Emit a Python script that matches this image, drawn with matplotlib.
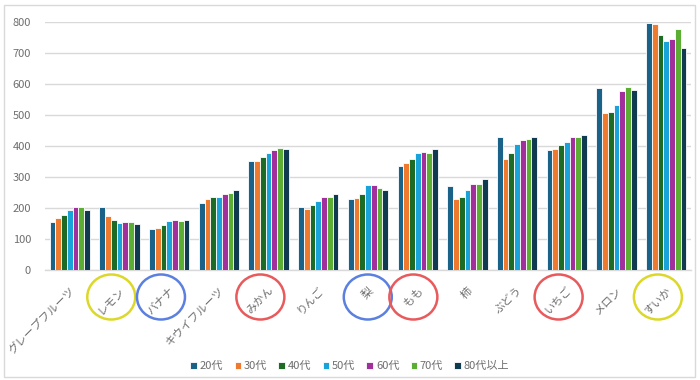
import numpy as np
import matplotlib
matplotlib.use("Agg")
import matplotlib.pyplot as plt
from matplotlib.patches import Ellipse, Rectangle
from matplotlib.transforms import IdentityTransform

plt.rcParams['font.family'] = ['Noto Sans CJK JP', 'DejaVu Sans']

# categories and series values
fruits = ['グレープフルーツ', 'レモン', 'バナナ', 'キウイフルーツ', 'みかん', 'りんご', '梨',
          'もも', '柿', 'ぶどう', 'いちご', 'メロン', 'すいか']
ages = ['20代', '30代', '40代', '50代', '60代', '70代', '80代以上']

v20 = [154, 203, 131, 217, 352, 203, 228, 334, 271, 430, 387, 588, 798]
v30 = [168, 174, 137, 230, 352, 197, 232, 346, 228, 357, 391, 506, 794]
v40 = [178, 160, 144, 235, 364, 209, 246, 357, 234, 378, 402, 510, 758]
v50 = [195, 151, 158, 237, 376, 223, 273, 378, 257, 407, 414, 533, 740]
v60 = [203, 154, 162, 244, 387, 237, 273, 380, 279, 418, 430, 579, 744]
v70 = [203, 154, 158, 250, 393, 237, 263, 378, 277, 422, 430, 590, 776]
v80 = [195, 149, 160, 257, 389, 244, 259, 389, 292, 430, 436, 581, 717]
series = [v20, v30, v40, v50, v60, v70, v80]

colors = ['#1b6289', '#ee7a30', '#1e6b26', '#19a3d9', '#a2309c', '#5bad33', '#0f3a50']

# circled labels and circle colours
circled = {'レモン': '#dcd82a', 'バナナ': '#5b80e0', 'みかん': '#e85a5c', '梨': '#5b80e0',
           'もも': '#e85a5c', 'いちご': '#e85a5c', 'すいか': '#dcd82a'}

yticks = [0, 100, 200, 300, 400, 500, 600, 700, 800]
txt = '#6e6e6e'

fig = plt.figure(figsize=(7, 3.8), dpi=100)
ax = fig.add_axes([45 / 700, 1 - 270 / 380, 646 / 700, 248 / 380])

x = np.arange(len(fruits))
n = len(series)
bw = 0.81 / n
for k, (vals, c, lab) in enumerate(zip(series, colors, ages)):
    ax.bar(x + (k - (n - 1) / 2) * bw, vals, bw, color=c, label=lab,
           edgecolor='white', linewidth=0.6, zorder=3)

ax.set_xlim(-0.5, len(fruits) - 0.5)
ax.set_ylim(0, 800)
ax.set_yticks(yticks)
ax.grid(axis='y', color='#d9d9d9', linewidth=1, zorder=0)
for s in ['top', 'right', 'left']:
    ax.spines[s].set_visible(False)
ax.spines['bottom'].set_color('#d9d9d9')
ax.spines['bottom'].set_linewidth(1)
ax.tick_params(axis='y', length=0, pad=10, labelsize=8, labelcolor=txt)
ax.tick_params(axis='x', length=0, pad=11, labelsize=8, labelcolor=txt)
ax.set_xticks(x)
ax.set_xticklabels(fruits, rotation=45, ha='right', va='top', rotation_mode='anchor')

leg = fig.legend(loc='center', bbox_to_anchor=(0.5, 1 - 366 / 380), ncol=n, frameon=False,
                 fontsize=8, labelcolor=txt, handlelength=0.6, handleheight=0.6,
                 handletextpad=0.25, columnspacing=1.0)

# chart frame
fig.patches.append(Rectangle((4 / 700, 3 / 380), 691 / 700, 372 / 380, transform=fig.transFigure,
                             fill=False, edgecolor='#d9d9d9', linewidth=1))

# circles around some category labels
fig.canvas.draw()
renderer = fig.canvas.get_renderer()
ybase = ax.transAxes.transform((0, 0))[1]
for lab in ax.get_xticklabels():
    name = lab.get_text()
    if name in circled:
        bb = lab.get_window_extent(renderer)
        cx = (bb.x0 + bb.x1) / 2
        e = Ellipse((cx, ybase - 27), 48, 45, transform=IdentityTransform(),
                    fill=False, edgecolor=circled[name], linewidth=1.8)
        fig.patches.append(e)

fig.savefig('out.png', dpi=100)
